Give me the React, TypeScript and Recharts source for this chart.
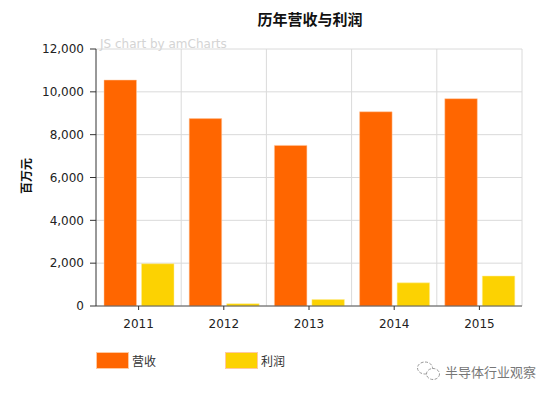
import React from 'react';
import { BarChart, Bar, XAxis, YAxis, CartesianGrid, Legend } from 'recharts';

const years = ['2011', '2012', '2013', '2014', '2015'];
const revenue = [10550, 8750, 7500, 9070, 9680];
const profit = [1970, 110, 300, 1080, 1400];
const yTicks = [0, 2000, 4000, 6000, 8000, 10000, 12000];

const chartData = years.map((year, i) => ({ year, 营收: revenue[i], 利润: profit[i] }));

const cjk = '"DejaVu Sans", "Noto Sans CJK SC", sans-serif';
const legendItems = [
    { name: '营收', color: '#FF6600', left: 96 },
    { name: '利润', color: '#FCD202', left: 225 },
];

const ChartLegend = () => (
    <div style={{ position: 'relative', width: 554, height: 30 }}>
        {legendItems.map(item => (
            <div key={item.name} style={{ position: 'absolute', left: item.left, top: 0, display: 'flex', alignItems: 'center' }}>
                <div style={{ width: 33, height: 17, background: item.color, border: '1px solid #FFC9A0', boxSizing: 'border-box' }} />
                <span style={{ marginLeft: 3, fontSize: 12, color: '#333', fontFamily: cjk }}>{item.name}</span>
            </div>
        ))}
    </div>
);

// small outline of the WeChat mark next to the watermark text
const WeChatMark = () => (
    <svg width={26} height={22} style={{ position: 'absolute', left: 416, top: 360 }}>
        <ellipse cx={9} cy={8} rx={7.5} ry={6} fill="none" stroke="#999" strokeWidth={1} strokeDasharray="3 1.5" />
        <ellipse cx={17} cy={14} rx={6.5} ry={5.5} fill="#fff" stroke="#999" strokeWidth={1} strokeDasharray="3 1.5" />
    </svg>
);

const App: React.FC = () => {
    return (
        <div style={{ position: 'absolute', left: 0, top: 0, width: 554, height: 396, background: '#fff', overflow: 'hidden' }}>
            <BarChart
                width={554}
                height={396}
                data={chartData}
                margin={{ top: 49, right: 32, bottom: 0, left: 0 }}
                barSize={32.5}
                barGap={5}
                barCategoryGap={7}
            >
                <CartesianGrid
                    stroke="#DADADA"
                    verticalCoordinatesGenerator={({ offset }: any) =>
                        years.map((_, i) => offset.left + (offset.width * (i + 1)) / years.length)
                    }
                />
                <XAxis
                    dataKey="year"
                    height={60}
                    axisLine={{ stroke: '#555' }}
                    tickLine={{ stroke: '#333' }}
                    tickSize={4}
                    tickMargin={9}
                    tick={{ fontSize: 12, fill: '#222', fontFamily: cjk }}
                />
                <YAxis
                    width={96}
                    domain={[0, 12000]}
                    ticks={yTicks}
                    interval={0}
                    tickFormatter={(value: number) => value.toLocaleString('en-US')}
                    axisLine={{ stroke: '#333' }}
                    tickLine={{ stroke: '#333' }}
                    tickSize={6}
                    tickMargin={6}
                    tick={{ fontSize: 12, fill: '#222', fontFamily: cjk }}
                />
                <Bar dataKey="营收" fill="#FF6600" stroke="#FFC9A0" strokeWidth={0.5} isAnimationActive={false} />
                <Bar dataKey="利润" fill="#FCD202" stroke="#FFEE99" strokeWidth={0.5} isAnimationActive={false} />
                <Legend
                    content={<ChartLegend />}
                    wrapperStyle={{ left: 0, top: 352, width: 554 }}
                />
            </BarChart>
            <div style={{ position: 'absolute', left: 0, top: 8, width: 620, textAlign: 'center', fontSize: 15, fontWeight: 'bold', color: '#111', fontFamily: cjk }}>
                历年营收与利润
            </div>
            <div style={{ position: 'absolute', left: 100, top: 37, fontSize: 12, color: '#D4D4D4', fontFamily: cjk }}>
                JS chart by amCharts
            </div>
            <div style={{ position: 'absolute', left: 25, top: 176, transform: 'translate(-50%, -50%) rotate(-90deg)', fontSize: 12, fontWeight: 'bold', color: '#111', fontFamily: cjk, whiteSpace: 'nowrap' }}>
                百万元
            </div>
            <WeChatMark />
            <div style={{ position: 'absolute', left: 445, top: 362, fontSize: 13, color: '#777', fontFamily: cjk, whiteSpace: 'nowrap' }}>
                半导体行业观察
            </div>
        </div>
    );
};

export default App;
